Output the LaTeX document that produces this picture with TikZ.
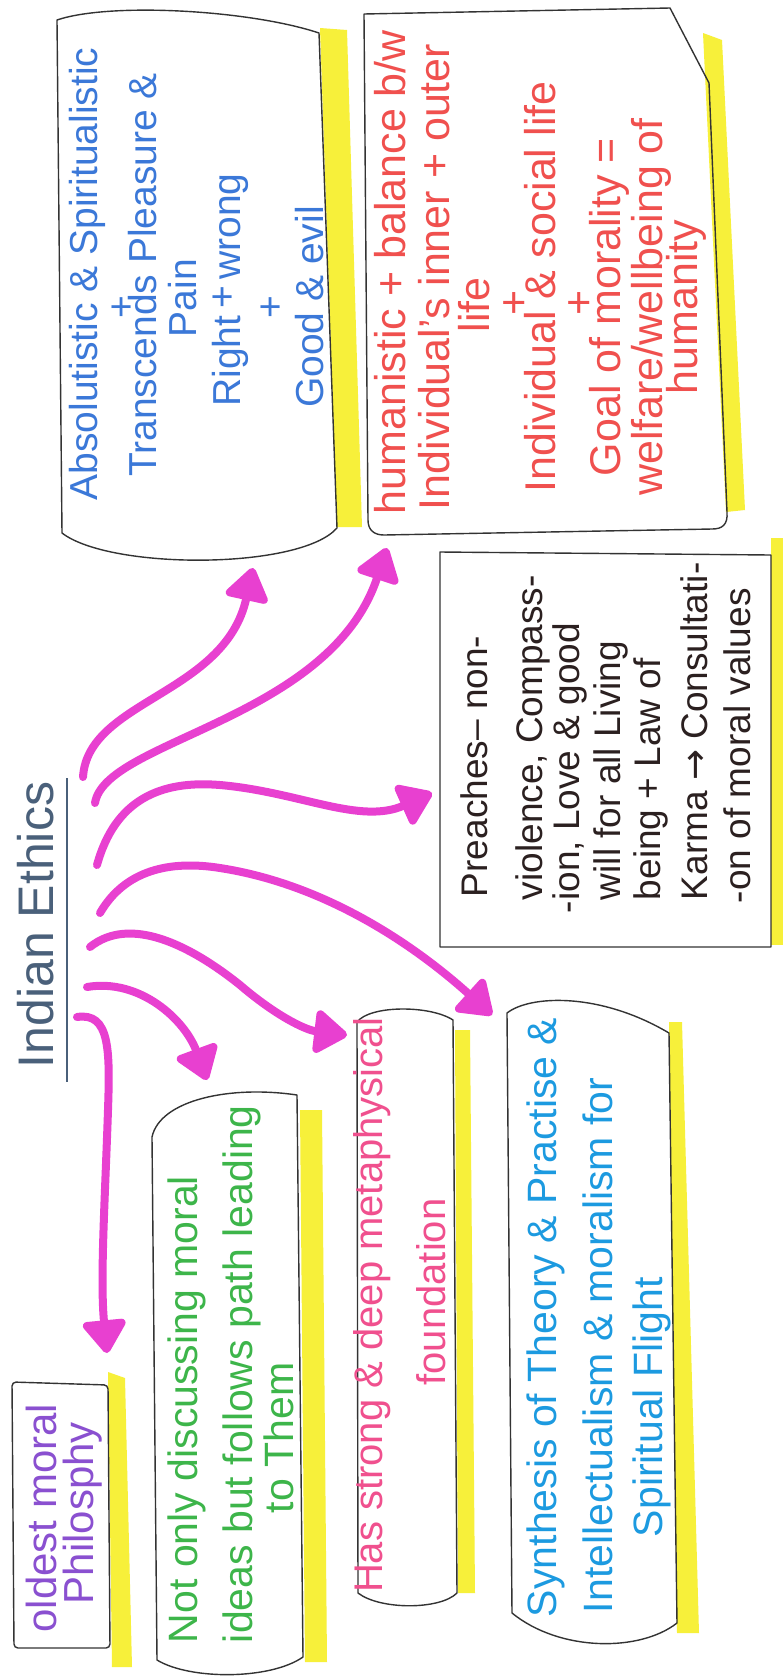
\documentclass[tikz,border=0pt]{standalone}
\usepackage{fontspec}
\setmainfont{Liberation Sans}
\newfontfamily\symfont{DejaVu Sans}
\usetikzlibrary{arrows.meta}
\definecolor{mag}{HTML}{E840D0}
\definecolor{hly}{HTML}{F7F03A}
\definecolor{outl}{HTML}{333333}
\definecolor{colT}{HTML}{4A607A}
\definecolor{colA}{HTML}{3B78D8}
\definecolor{colB}{HTML}{F0504E}
\definecolor{colC}{HTML}{2B2020}
\definecolor{colD}{HTML}{1C9AE0}
\definecolor{colE}{HTML}{F0508E}
\definecolor{colF}{HTML}{3DB54A}
\definecolor{colG}{HTML}{8A50D0}
\tikzset{
  arr/.style={line width=8pt, draw=mag, line cap=round, -{Triangle[width=48pt,length=36pt,round]}},
  boxline/.style={draw=outl, line width=1.4pt, line join=round},
  hl/.style={fill=hly, draw=none},
  txt/.style={rotate=90, inner sep=0pt, outer sep=0pt},
  tT/.style={txt, text=colT, font=\fontsize{50}{50}\selectfont},
  tA/.style={txt, text=colA, font=\fontsize{39}{39}\selectfont},
  tB/.style={txt, text=colB, font=\fontsize{43}{43}\selectfont},
  tC/.style={txt, text=colC, font=\fontsize{37}{37}\selectfont},
  tD/.style={txt, text=colD, font=\fontsize{41}{41}\selectfont},
  tE/.style={txt, text=colE, font=\fontsize{40}{40}\selectfont},
  tF/.style={txt, text=colF, font=\fontsize{41}{41}\selectfont},
  tG/.style={txt, text=colG, font=\fontsize{42}{42}\selectfont},
}
\begin{document}
\begin{tikzpicture}[x=1pt,y=-1pt]
\useasboundingbox (0,0) rectangle (783,1679);
\fill[white] (0,0) rectangle (783,1679);

% highlighter strips
\fill[hl] (320,28) -- (347,30) -- (362,527) -- (337,527) -- cycle;
\fill[hl] (703,33) -- (722,40) -- (745,510) -- (726,512) -- cycle;
\fill[hl] (771,538) -- (783,538) -- (783,945) -- (771,945) -- cycle;
\fill[hl] (669,1022) -- (682,1022) -- (699,1633) -- (677,1633) -- cycle;
\fill[hl] (455,1030) -- (470,1030) -- (475,1593) -- (458,1593) -- cycle;
\fill[hl] (300,1110) -- (322,1110) -- (327,1662) -- (305,1662) -- cycle;
\fill[hl] (108,1372) -- (125,1378) -- (132,1667) -- (112,1667) -- cycle;

% boxes
\draw[boxline] (57,20) .. controls (110,2) and (250,10) .. (319,33) -- (337,528)
  .. controls (300,570) and (110,570) .. (62,533) -- cycle;
\draw[boxline] (364,14) -- (670,8) -- (709,83) -- (727,512)
  .. controls (728,525) and (722,529) .. (712,529) -- (384,535)
  .. controls (374,535) and (368,530) .. (368,520) -- cycle;
\draw[boxline] (440,552) -- (771,555) -- (771,947) -- (440,947) -- cycle;
\draw[boxline] (507,1013) .. controls (530,995) and (600,992) .. (669,1033) -- (677,1623)
  .. controls (640,1652) and (560,1652) .. (512,1613) -- cycle;
\draw[boxline] (357,1022) .. controls (370,1005) and (430,1005) .. (453,1020) -- (457,1593)
  .. controls (440,1610) and (380,1610) .. (358,1593) -- cycle;
\draw[boxline] (152,1137) .. controls (160,1100) and (230,1085) .. (297,1095) -- (303,1657)
  .. controls (270,1680) and (190,1680) .. (157,1660) -- cycle;
\draw[boxline, rounded corners=4pt] (12,1382) -- (108,1385) -- (110,1648) -- (14,1648) -- cycle;

% title
\node[tT, anchor=base] (title) at (53,925) {Indian Ethics};
\draw[draw=colT, line width=1.6pt] (67,778) -- (67,1082);

% box A
\node[tA, anchor=base] (a1) at (97,274) {Absolutistic \& Spiritualistic};
\node[tA, anchor=base] (a2) at (134,307) {+};
\node[tA, anchor=base] (a3) at (156,275) {Transcends Pleasure \&};
\node[tA, anchor=base] (a4) at (196,298) {Pain};
\node[tA, anchor=base] (a5) at (240,290) {Right\,\raisebox{5pt}{+}\,wrong};
\node[tA, anchor=base] (a6) at (283,307) {+};
\node[tA, anchor=base] (a7) at (323,307) {Good \& evil};

% box B
\node[tB, anchor=base] (b1) at (405,272) {humanistic + balance b/w};
\node[tB, anchor=base] (b2) at (449,277) {Individual's inner + outer};
\node[tB, anchor=base] (b3) at (489,305) {life};
\node[tB, anchor=base] (b4) at (528,303) {+};
\node[tB, anchor=base] (b5) at (555,287) {Individual \& social life};
\node[tB, anchor=base] (b6) at (593,303) {+};
\node[tB, anchor=base] (b7) at (620,307) {Goal of morality =};
\node[tB, anchor=base] (b8) at (662,307) {welfare/wellbeing of};
\node[tB, anchor=base] (b9) at (697,307) {humanity};

% box C
\node[tC, anchor=base west] (c1) at (487,897) {Preaches– non-};
\node[tC, anchor=base west] (c2) at (542,900) {violence, Compass-};
\node[tC, anchor=base west] (c3) at (579,913) {-ion, Love \& good};
\node[tC, anchor=base west] (c4) at (620,900) {will for all Living};
\node[tC, anchor=base west] (c5) at (660,900) {being + Law of};
\node[tC, anchor=base west] (c6) at (707,900) {Karma {\symfont →} Consultati-};
\node[tC, anchor=base west] (c7) at (750,903) {-on of moral values};

% box D
\node[tD, anchor=base west] (d1) at (556,1617) {Synthesis of Theory \& Practise \&};
\node[tD, anchor=base west] (d2) at (612,1613) {Intellectualism \& moralism for};
\node[tD, anchor=base west] (d3) at (662,1537) {Spiritual Flight};

% box E
\node[tE, anchor=base] (e1) at (382,1305) {Has strong \& deep metaphysical};
\node[tE, anchor=base] (e2) at (445,1292) {foundation};

% box F
\node[tF, anchor=base west] (f1) at (197,1643) {Not only discussing moral};
\node[tF, anchor=base west] (f2) at (252,1643) {ideas but follows path leading};
\node[tF, anchor=base west] (f3) at (293,1513) {to Them};

% box G
\node[tG, anchor=base] (g1) at (56,1518) {oldest moral};
\node[tG, anchor=base] (g2) at (93,1513) {Philosphy};

% connectors
\coordinate (sA) at (83,777);  \coordinate (tA) at (253,568);
\coordinate (sB) at (95,803);  \coordinate (tB) at (387,548);
\coordinate (sC) at (97,865);  \coordinate (tC) at (432,793);
\coordinate (sD) at (100,913); \coordinate (tD) at (492,1015);
\coordinate (sE) at (90,947);  \coordinate (tE) at (347,1035);
\coordinate (sF) at (87,987);  \coordinate (tF) at (207,1080);
\coordinate (sG) at (77,1017); \coordinate (tG) at (107,1353);

\draw[arr] (sA) .. controls (88,700) and (225,695) .. (tA);
\draw[arr] (sB) .. controls (105,740) and (330,720) .. (tB);
\draw[arr] (sC) .. controls (115,800) and (160,780) .. (220,785) .. controls (300,792) and (360,825) .. (tC);
\draw[arr] (sD) .. controls (125,870) and (170,860) .. (220,868) .. controls (330,885) and (420,950) .. (tD);
\draw[arr] (sE) .. controls (130,915) and (190,945) .. (240,985) .. controls (275,1015) and (305,1030) .. (tE);
\draw[arr] (sF) .. controls (140,978) and (185,1020) .. (tF);
\draw[arr] (sG) .. controls (110,1012) and (110,1050) .. (108,1110) .. controls (105,1200) and (100,1280) .. (tG);
\end{tikzpicture}
\end{document}
